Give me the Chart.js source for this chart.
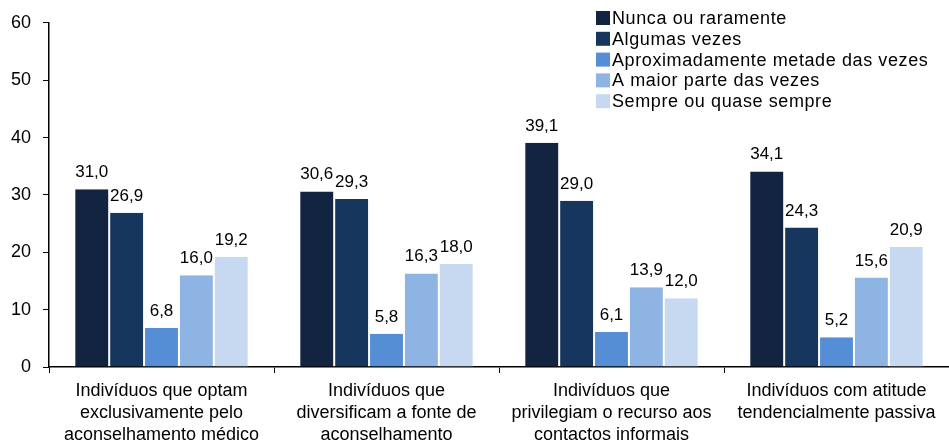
<!DOCTYPE html>
<html>
<head>
<meta charset="utf-8">
<script src="https://cdn.jsdelivr.net/npm/chart.js@4.4.1/dist/chart.umd.min.js"></script>
<style>
  html, body { margin: 0; padding: 0; background: #fff; }
  #wrap { width: 949px; height: 446px; }
</style>
</head>
<body>
<div id="wrap"><canvas id="grafico"></canvas></div>
<script>
// categorias e séries
var categorias = [
  ['Indivíduos que optam', 'exclusivamente pelo', 'aconselhamento médico'],
  ['Indivíduos que', 'diversificam a fonte de', 'aconselhamento'],
  ['Indivíduos que', 'privilegiam o recurso aos', 'contactos informais'],
  ['Indivíduos com atitude', 'tendencialmente passiva']
];
var series = ['Nunca ou raramente', 'Algumas vezes', 'Aproximadamente metade das vezes', 'A maior parte das vezes', 'Sempre ou quase sempre'];
var nunca    = [31.0, 30.6, 39.1, 34.1];
var algumas  = [26.9, 29.3, 29.0, 24.3];
var metade   = [6.8, 5.8, 6.1, 5.2];
var maior    = [16.0, 16.3, 13.9, 15.6];
var sempre   = [19.2, 18.0, 12.0, 20.9];
var yTicks   = [0, 10, 20, 30, 40, 50, 60];

var cores = ['#12243f', '#17365d', '#558ed5', '#8eb4e3', '#c6d9f1'];
var valores = [nunca, algumas, metade, maior, sempre];
var FONTE = '"Liberation Sans", Arial, sans-serif';

var datasets = series.map(function (s, i) {
  return {
    label: s,
    data: valores[i],
    backgroundColor: cores[i],
    borderColor: 'rgba(255,255,255,0.6)',
    borderWidth: { left: 1, right: 1, top: 0, bottom: 0 },
    barPercentage: 1,
    categoryPercentage: 0.775
  };
});

// rótulos com vírgula decimal
var rotulos = {
  id: 'rotulos',
  afterDatasetsDraw: function (chart) {
    var ctx = chart.ctx;
    ctx.save();
    ctx.font = '17px ' + FONTE;
    ctx.fillStyle = '#000';
    ctx.textAlign = 'center';
    ctx.textBaseline = 'alphabetic';
    chart.data.datasets.forEach(function (ds, i) {
      chart.getDatasetMeta(i).data.forEach(function (bar, j) {
        ctx.fillText(ds.data[j].toFixed(1).replace('.', ','), bar.x, bar.y - 12);
      });
    });
    ctx.restore();
  }
};

// legenda no canto superior direito
var legenda = {
  id: 'legenda',
  afterDraw: function (chart) {
    var ctx = chart.ctx;
    ctx.save();
    ctx.font = '18px ' + FONTE;
    ctx.letterSpacing = '0.6px';
    ctx.textBaseline = 'middle';
    chart.data.datasets.forEach(function (ds, i) {
      var y = 18 + i * 20.8;
      ctx.fillStyle = ds.backgroundColor;
      ctx.fillRect(596, y - 7, 14, 14);
      ctx.fillStyle = '#000';
      ctx.fillText(ds.label, 612, y + 1);
    });
    ctx.restore();
  }
};

new Chart(document.getElementById('grafico'), {
  type: 'bar',
  data: { labels: categorias, datasets: datasets },
  options: {
    responsive: true,
    maintainAspectRatio: false,
    animation: false,
    layout: { padding: { top: 22, right: 0, left: 0, bottom: 0 } },
    plugins: {
      legend: { display: false },
      tooltip: { enabled: false }
    },
    scales: {
      x: {
        grid: { display: true, drawOnChartArea: false, color: '#000', tickLength: 6, offset: true, tickColor: '#000' },
        border: { color: '#000', width: 1.5 },
        ticks: { color: '#000', font: { size: 18, family: FONTE, lineHeight: 1.22 }, maxRotation: 0, autoSkip: false, padding: 7 },
        afterFit: function (s) { s.height = 79; }
      },
      y: {
        min: 0,
        max: 60,
        afterBuildTicks: function (s) { s.ticks = yTicks.map(function (v) { return { value: v }; }); },
        grid: { display: true, drawOnChartArea: false, color: '#000', tickLength: 6, tickColor: '#000' },
        border: { color: '#000', width: 1.5 },
        ticks: { color: '#000', font: { size: 18, family: FONTE }, padding: 12 },
        afterFit: function (s) { s.width = 49; }
      }
    }
  },
  plugins: [rotulos, legenda]
});
</script>
</body>
</html>
